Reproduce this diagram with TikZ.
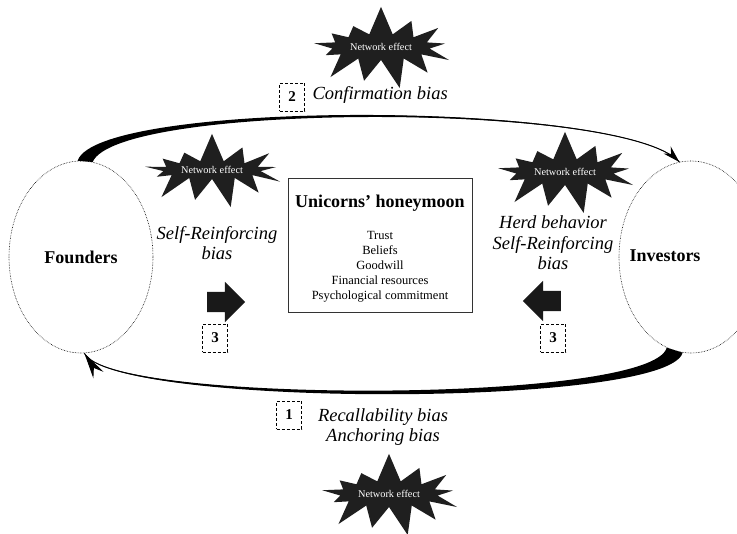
\documentclass[tikz,border=0pt]{standalone}
\usepackage{fontspec}
\setmainfont{Liberation Serif}
\usetikzlibrary{arrows.meta,shapes.geometric,shapes.symbols,shapes.arrows}
\tikzset{>=stealth}
\tikzset{
  party/.style={ellipse, draw, densely dotted, line width=0.6pt,
    minimum width=144pt, minimum height=192pt, inner sep=0pt,
    font=\fontsize{18}{20}\selectfont\bfseries},
  partyname/.style={font=\fontsize{18}{20}\selectfont\bfseries},
  burst/.style={starburst, fill=black!88, text=white, starburst points=13,
    starburst point height=30pt, random starburst=7,
    minimum width=158pt, minimum height=86pt, inner sep=0pt,
    font=\fontsize{10.3}{12}\selectfont},
  bias/.style={align=center, font=\fontsize{18.5}{20.5}\selectfont\itshape},
  stage/.style={draw, dash pattern=on 3pt off 2pt, line width=0.8pt,
    minimum width=25pt, minimum height=28pt, inner sep=0pt,
    font=\fontsize{15}{17}\selectfont\bfseries},
  push/.style={single arrow, fill=black!90, minimum height=38pt,
    minimum width=40pt, single arrow head extend=10pt,
    inner xsep=0pt, inner ysep=10pt},
  sweep/.style={line width=1pt}
}

\begin{document}
\begin{tikzpicture}[x=1pt, y=-1pt]
  \useasboundingbox (0,0) rectangle (737,534);
  \clip (0,0) rectangle (737,534);

  \node[party] (founders) at (81,257) {Founders};
  \node[party] (investors) at (691,257) {};
  \node[partyname] (invname) at (665,256) {Investors};

  \node[draw=black!80, line width=0.7pt, minimum width=184pt,
    minimum height=134pt] (moon) at (380,245) {};
  \node[align=center, font=\fontsize{12.5}{15}\selectfont] (moontext) at (380,249)
    {{\fontsize{18}{20}\selectfont\bfseries Unicorns' honeymoon}\\[17pt]
     Trust\\Beliefs\\Goodwill\\Financial resources\\Psychological commitment};

  % top loop, founders to investors
  \fill (founders.92) .. controls (97,99) and (625,100) .. (investors.97)
    .. controls (625,102) and (118,102) .. (founders.83) -- cycle;
  \draw[sweep] (founders.87) .. controls (107,100.5) and (625,101)
    .. coordinate[pos=0.985] (topnear) (investors.97);
  \draw[sweep, -{Stealth[length=17pt,width=10pt]}] (topnear) -- (investors.97);

  % bottom loop, investors to founders
  \fill (investors.265) .. controls (668,408) and (112,408) .. (founders.272)
    .. controls (108,404) and (652,404) .. (investors.255) -- cycle;
  \draw[sweep] (investors.260) .. controls (660,406) and (110,406)
    .. coordinate[pos=0.985] (bottomnear) (founders.272);
  \draw[sweep, -{Stealth[length=26pt,width=12pt]}] (bottomnear) -- (founders.272);

  \node[burst] (nettop) at (381,47) {Network effect};
  \node[burst, minimum height=78pt] (netleft) at (212,170) {Network effect};
  \node[burst] (netright) at (565,172) {Network effect};
  \node[burst] (netbottom) at (389,494) {Network effect};

  \node[stage] (s2) at (292,97) {2};
  \node[bias, anchor=base west] (confirm) at (309,100) {Confirmation bias};

  \node[bias] (selfleft) at (217,243) {Self-Reinforcing\\bias};
  \node[bias] (herd) at (553,243) {Herd behavior\\Self-Reinforcing\\bias};

  \node[push] (pushleft) at (221,302) {};
  \node[push, shape border rotate=180] (pushright) at (547,301) {};
  \node[stage] (s3l) at (215,338) {3};
  \node[stage] (s3r) at (553,338) {3};

  \node[stage] (s1) at (289,415) {1};
  \node[bias] (recall) at (383,427) {Recallability bias\\Anchoring bias};
\end{tikzpicture}
\end{document}
